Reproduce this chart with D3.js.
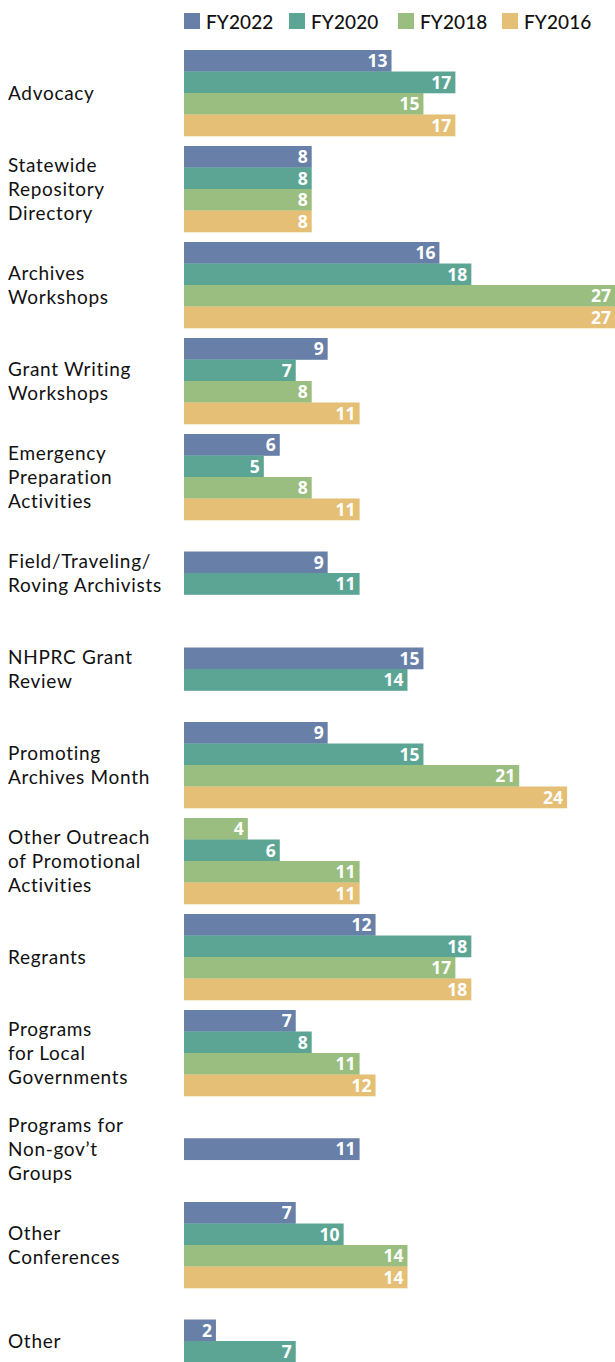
<!DOCTYPE html>
<html><head><meta charset="utf-8">
<script src="https://cdn.jsdelivr.net/npm/d3@7"></script>
<style>
html,body{margin:0;padding:0;background:#fff;}
svg{display:block;}
</style></head>
<body>
<script>
// ---- data ----
const categories = [
  "Advocacy",
  "Statewide Repository Directory",
  "Archives Workshops",
  "Grant Writing Workshops",
  "Emergency Preparation Activities",
  "Field/Traveling/Roving Archivists",
  "NHPRC Grant Review",
  "Promoting Archives Month",
  "Other Outreach of Promotional Activities",
  "Regrants",
  "Programs for Local Governments",
  "Programs for Non-gov’t Groups",
  "Other Conferences",
  "Other"
];
const categoryLines = [
  ["Advocacy"],
  ["Statewide", "Repository", "Directory"],
  ["Archives", "Workshops"],
  ["Grant Writing", "Workshops"],
  ["Emergency", "Preparation", "Activities"],
  ["Field/Traveling/", "Roving Archivists"],
  ["NHPRC Grant", "Review"],
  ["Promoting", "Archives Month"],
  ["Other Outreach", "of Promotional", "Activities"],
  ["Regrants"],
  ["Programs", "for Local", "Governments"],
  ["Programs for", "Non-gov’t", "Groups"],
  ["Other", "Conferences"],
  ["Other"]
];
const seriesNames = ["FY2022", "FY2020", "FY2018", "FY2016"];
const fy2022 = [13, 8, 16, 9, 6, 9, 15, 9, 4, 12, 7, 11, 7, 2];
const fy2020 = [17, 8, 18, 7, 5, 11, 14, 15, 6, 18, 8, null, 10, 7];
const fy2018 = [15, 8, 27, 8, 8, null, null, 21, 11, 17, 11, null, 14, null];
const fy2016 = [17, 8, 27, 11, 11, null, null, 24, 11, 18, 12, null, 14, null];
const seriesColors = ["#6880a8", "#5ca595", "#9abe80", "#e4bf75"];
// the source draws the first "Other Outreach" bar in the FY2018 colour
const colorOverrides = [{category: "Other Outreach of Promotional Activities", series: "FY2022", color: "#9abe80"}];

const seriesValues = [fy2022, fy2020, fy2018, fy2016];

// ---- layout ----
const W = 615, H = 1362;
const svg = d3.select("body").append("svg").attr("width", W).attr("height", H);
const FONT = "Lato, 'Noto Sans', sans-serif";

const x = d3.scaleLinear().domain([0, 27]).range([184, 615]);
const y = d3.scaleBand().domain(categories).range([50, 1384]).paddingInner(10 / 96).paddingOuter(0);
const barH = y.bandwidth() / 4;

// legend
const legendX = [184, 289, 398, 502];
const legend = svg.append("g");
seriesNames.forEach((s, i) => {
  const g = legend.append("g").attr("transform", `translate(${legendX[i]},13)`);
  g.append("rect").attr("width", 16).attr("height", 16).attr("fill", seriesColors[i]);
  g.append("text").attr("x", 22).attr("y", 15.5).attr("font-family", FONT).attr("font-size", 19)
    .attr("letter-spacing", 0.1).attr("font-weight", 500).attr("fill", "#111").text(s);
});

// groups
categories.forEach((c, ci) => {
  const present = seriesNames.map((s, si) => ({s, si, v: seriesValues[si][ci]})).filter(d => d.v != null);
  const n = present.length;
  const off = (y.bandwidth() - n * barH) / 2;
  const inner = d3.scaleBand().domain(present.map(d => d.s)).range([off, off + n * barH]);
  const g = svg.append("g").attr("transform", `translate(0,${y(c)})`);
  present.forEach(d => {
    const ov = colorOverrides.find(o => o.category === c && o.series === d.s);
    g.append("rect").attr("x", x(0)).attr("y", inner(d.s)).attr("width", x(d.v) - x(0))
      .attr("height", inner.bandwidth() + 0.3).attr("fill", ov ? ov.color : seriesColors[d.si]);
    g.append("text").attr("x", x(d.v) - 4).attr("y", inner(d.s) + inner.bandwidth() / 2)
      .attr("dy", "0.36em").attr("text-anchor", "end").attr("font-family", "'Open Sans', sans-serif")
      .attr("font-weight", 700).attr("font-size", 17.5).attr("fill", "#fff").text(d.v);
  });
  // category label
  const lines = categoryLines[ci];
  const lh = 24;
  const cy = y.bandwidth() / 2;
  const t = g.append("text").attr("font-family", FONT).attr("font-size", 19)
    .attr("letter-spacing", 0.7).attr("fill", "#111");
  lines.forEach((l, li) => {
    t.append("tspan").attr("x", 8).attr("y", cy + (li - (lines.length - 1) / 2) * lh).attr("dy", "0.35em").text(l);
  });
});
</script>
</body></html>
